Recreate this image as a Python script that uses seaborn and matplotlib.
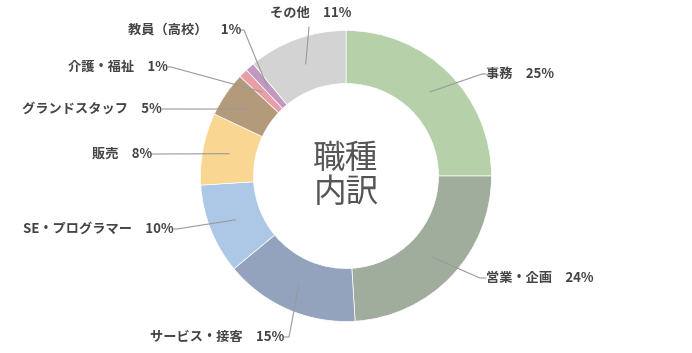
import matplotlib
matplotlib.use("Agg")
import matplotlib.pyplot as plt
import seaborn as sns
import numpy as np

sns.set_theme(style="white")
plt.rcParams['font.family'] = ['Noto Sans CJK JP', 'DejaVu Sans']

# ---- data ----
categories = ["事務", "営業・企画", "サービス・接客", "SE・プログラマー", "販売",
              "グランドスタッフ", "介護・福祉", "教員（高校）", "その他"]
values = [25, 24, 15, 10, 8, 5, 1, 1, 11]
colors = ["#b6d1a9", "#a1ad9c", "#93a3bd", "#adc7e6", "#f9d792",
          "#b39a7b", "#e89ea6", "#c398c0", "#d4d3d4"]
center_title = "職種\n内訳"

# ---- layout (pixel space, y downwards) ----
W, H = 692, 353
cx, cy = 346, 176
R_out, R_in = 145.5, 92.5
# elbow point, text anchor point, alignment
label_layout = [
    ((482, 74), (486, 74), "left"),
    ((480, 278), (486, 278), "left"),
    ((289, 337), (284, 337), "right"),
    ((177, 229), (174, 229), "right"),
    ((156, 154), (152, 154), "right"),
    ((166, 109), (162, 109), "right"),
    ((171, 67), (168, 67), "right"),
    ((244, 30), (241, 30), "right"),
    ((309, 27), (311, 13), "center"),
]

fig = plt.figure(figsize=(W / 100, H / 100), dpi=100)
ax = fig.add_axes([0, 0, 1, 1])

def py(y):
    return H - y

wedges, _ = ax.pie(values, colors=colors, startangle=90, counterclock=False,
                   radius=R_out, center=(cx, py(cy)),
                   wedgeprops=dict(width=R_out - R_in, edgecolor="white", linewidth=0.5))
ax.set_xlim(0, W)
ax.set_ylim(0, H)
ax.set_aspect("equal", adjustable="box")
ax.axis("off")

r_mid = (R_out + R_in) / 2
for w, cat, val, (elbow, txt, ha) in zip(wedges, categories, values, label_layout):
    ang = np.deg2rad((w.theta1 + w.theta2) / 2)
    sx = cx + r_mid * np.cos(ang)
    sy = py(cy) + r_mid * np.sin(ang)
    ex, ey = elbow[0], py(elbow[1])
    tx, ty = txt[0], py(txt[1])
    if ha == "center":
        ax.plot([sx, ex], [sy, ey], color="#9a9a9a", lw=0.8)
    else:
        ax.plot([sx, ex, tx], [sy, ey, ty], color="#9a9a9a", lw=0.8)
    ax.text(tx, ty, f"{cat}　{val}%", ha=ha, va="center", fontsize=9.5,
            fontweight="bold", color="#444444")

ax.text(cx, py(cy), center_title, ha="center", va="center", fontsize=23.5,
        color="#555555", linespacing=1.05)

fig.savefig("out.png", dpi=100)
